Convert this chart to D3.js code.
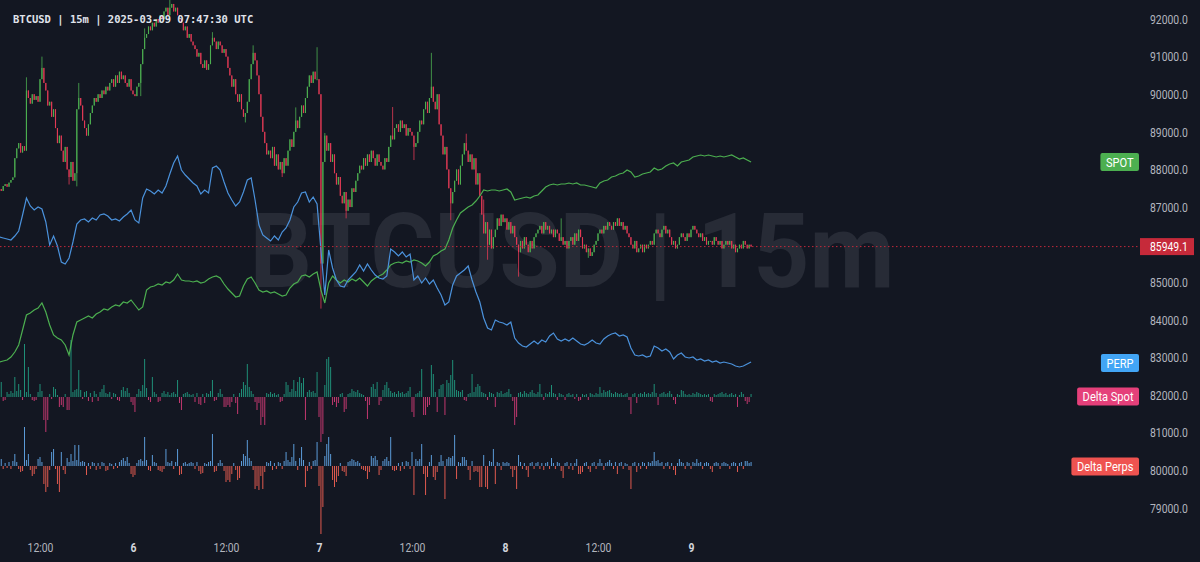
<!DOCTYPE html>
<html>
<head>
<meta charset="utf-8">
<script src="https://cdn.jsdelivr.net/npm/d3@7"></script>
<style>
  body { margin: 0; background: #131722; }
  svg { display: block; }
  .cond { font-family: "Roboto", "Noto Sans", sans-serif; }
</style>
</head>
<body>
<div id="chart"></div>
<script>
// ---- data ----
const title = "BTCUSD | 15m | 2025-03-09 07:47:30 UTC";
const watermark = "BTCUSD | 15m";
const lastPrice = 85949.1;
const firstOpen = 87520;

// 15m closes, 2025-03-05 06:45 -> 2025-03-09 07:45 UTC
const closes = [
  87480, 87430, 87560, 87610, 87540, 87650, 87720, 87790, 88300, 88560, 88700, 88450, 88620, 88500,
  90100, 89900, 89750, 90000, 89850, 89950, 89800, 90400, 90700, 90300, 90100, 89700,
  89800, 89400, 89600, 89100, 88700, 88900, 88500, 88200, 88600, 88000, 87800, 88200, 87700, 87900,
  89600, 89900, 89700, 89300, 89100, 88900, 89200, 89500,
  89700, 89900, 89800, 90000, 89900, 90100, 90000, 90200, 90100,
  90300, 90400, 90200, 90500, 90300, 90600, 90400, 90500, 90300, 90200, 90400,
  90100, 90000, 89950, 90200, 90300, 90800, 91200, 91500,
  91600, 91800, 91700, 91900, 91800, 92000, 91900, 92100, 92000, 92200, 92300, 92100, 92300, 92400, 92200, 92300, 92100,
  92000, 91900, 91700, 91800, 91500, 91600, 91400, 91300,
  91200, 91000, 91100, 90800, 90700, 90900, 90650, 90800,
  91300, 91500, 91400, 91200, 91400, 91300, 91100, 91200, 91000,
  90700, 90500, 90200, 90400, 90000, 89800, 90000, 89600, 89400, 89500,
  89800, 90400, 90800, 91100, 90900,
  90500, 90000, 89400, 89000, 88700, 88400, 88500,
  88300, 88600, 88100, 88400, 88000, 88200, 87900, 88300, 88100,
  88500, 88800, 88600, 89000, 89300, 89100, 89400, 89700, 89500,
  89900, 90200, 90500, 90300, 90600, 90400,
  90400, 90000, 85500, 88200, 88900,
  88500, 88700, 88200, 88400, 87900, 87600, 87800, 87300,
  87100, 87400, 86900, 87200, 87000, 87500, 87400,
  87700, 87900, 88100, 88000, 88300, 88100, 88400, 88200, 88500, 88300, 88100, 88400, 88200,
  88100, 88000, 88300, 88200, 88600, 88900, 88800, 89100,
  89200, 89000, 89300, 89100, 89200, 88900, 89100, 89000, 88900, 88600, 88700,
  89000, 89300, 89200, 89600, 89800, 89500, 89900, 90200, 89800,
  89600, 90000, 89200, 88900, 88400, 88600, 88000, 87500, 87100, 87400,
  87700, 88000, 87600, 88100, 88400, 88700, 88500, 88200, 88400,
  88000, 88300, 87600, 87900, 87300,
  86800, 86300, 86600, 86000, 86400, 85900, 86200,
  86400, 86700, 86500, 86800, 86600, 86700, 86400, 86600, 86300, 86500, 86200, 86000, 85800,
  86100, 85900, 86200, 86000, 85800, 86100, 85900, 86200, 86300,
  86400, 86500, 86300, 86600, 86400, 86500, 86300, 86400, 86200, 86400, 86300, 86100, 86200, 86000, 86100, 85900, 86100,
  86200, 86000, 86300, 86100, 86400, 86200, 85900, 86000, 85800, 85900, 85700, 85800, 86000, 86100, 86300,
  86400, 86300, 86500, 86400, 86600, 86500, 86400, 86600, 86500, 86700, 86500, 86600, 86400, 86500, 86300, 86200,
  86000, 85900, 86100, 85800, 85900, 86000, 85800, 86000, 85900, 86000, 86100, 86000,
  86300, 86400, 86300, 86200, 86400, 86500, 86300, 86400, 86200, 86000, 86100, 85900, 86000,
  86200, 86300, 86200, 86100, 86300, 86200, 86400, 86500, 86400, 86300, 86200, 86300, 86100, 86200, 86000, 86100,
  86100, 86000, 86200, 86100, 86000, 86100, 85900, 86000, 86100, 86000, 86100, 85900, 86000, 85800, 85900, 86000,
  85900, 86100, 86000, 85900, 86000, 85949.1
];

// notable wicks [candle index, price]
const wickHighs = [[14, 90450], [22, 91000], [41, 90300], [75, 91750], [88, 92600], [110, 91650], [131, 91300],
  [153, 89650], [164, 91250], [168, 88970], [203, 89660], [223, 91100], [241, 88950], [250, 87200], [290, 86700]];
const wickLows = [[36, 87600], [40, 87550], [73, 89950], [127, 89250], [146, 87800], [166, 84300], [179, 86700],
  [214, 88250], [233, 86650], [252, 85600], [268, 85150], [304, 85650]];

// cumulative delta lines, one point per 30m
const spotCvd = [
  1.8, 1.9, 2.0, 2.3, 2.8, 3.5, 5.0, 6.5, 6.7, 7.0, 7.2, 7.7, 6.8, 5.5, 4.5, 4.2, 4.0, 3.5, 2.5, 4.5,
  5.8, 6.0, 6.2, 6.4, 6.2, 6.6, 6.8, 7.1, 7.0, 7.3, 7.5, 7.4, 7.8, 7.7, 8.0, 7.5, 7.0, 7.3, 9.0, 9.3,
  9.4, 9.6, 9.5, 9.8, 9.7, 10.0, 10.6, 10.0, 9.9, 9.9, 9.8, 9.9, 9.7, 9.8, 10.1, 10.3, 10.4, 10.2, 9.6, 9.1,
  8.7, 8.3, 8.4, 9.4, 10.1, 10.3, 9.7, 9.0, 8.8, 8.9, 8.7, 8.8, 8.6, 8.4, 8.5, 9.2, 9.6, 9.8, 10.4, 10.5,
  10.3, 10.6, 10.8, 9.0, 7.7, 9.7, 10.4, 10.0, 9.7, 10.0, 9.8, 10.1, 9.9, 10.2, 9.8, 9.4, 9.9, 10.2, 10.4, 10.6,
  11.0, 11.5, 11.7, 11.8, 11.7, 11.9, 11.8, 12.0, 11.9, 11.7, 11.4, 11.8, 12.4, 12.6, 12.9, 13.1, 14.0, 15.2, 16.0, 16.7,
  17.0, 17.3, 17.5, 17.9, 18.4, 19.0, 18.9, 19.0, 19.0, 18.9, 19.0, 19.1, 18.8, 18.0, 18.1, 18.2, 18.3, 18.2, 18.4, 18.5,
  18.9, 19.3, 19.5, 19.6, 19.5, 19.6, 19.6, 19.7, 19.6, 19.7, 19.5, 19.5, 19.4, 19.3, 19.2, 19.7, 19.9, 20.0, 20.3, 20.4,
  20.6, 20.7, 21.0, 20.8, 20.3, 20.4, 20.6, 20.7, 20.8, 21.2, 21.0, 21.1, 21.4, 21.6, 21.7, 21.4, 21.8, 21.9, 22.0, 22.3,
  22.4, 22.5, 22.4, 22.5, 22.4, 22.3, 22.4, 22.3, 22.4, 22.5, 22.3, 22.1, 22.2, 22.0, 21.8
];
const perpCvd = [
  14.3, 14.2, 14.1, 14.0, 14.4, 14.9, 16.5, 18.2, 17.4, 17.0, 17.3, 17.1, 15.8, 13.5, 14.4, 13.4, 11.8, 11.6, 12.2, 13.8,
  15.6, 16.0, 16.1, 15.8, 16.2, 16.0, 16.5, 16.6, 16.4, 16.0, 16.1, 15.9, 16.3, 16.6, 17.0, 16.0, 15.7, 18.2, 19.1, 18.9,
  18.6, 19.0, 18.7, 19.4, 20.6, 21.7, 22.4, 21.0, 20.5, 20.1, 19.7, 19.4, 18.6, 19.0, 18.7, 21.2, 21.4, 21.0, 19.8, 18.7,
  18.0, 17.4, 17.8, 18.8, 20.0, 20.2, 18.0, 15.5, 14.5, 14.2, 13.9, 14.4, 14.0, 14.8, 15.2, 16.0, 17.3, 17.8, 18.7, 18.8,
  17.8, 18.3, 17.6, 13.0, 8.5, 13.0, 11.2, 10.0, 9.4, 9.3, 10.0, 10.4, 10.8, 11.5, 10.9, 11.6, 11.0, 10.5, 10.2, 10.1,
  10.4, 13.1, 12.8, 12.4, 12.8, 12.3, 12.6, 10.0, 10.4, 9.7, 10.2, 9.6, 10.0, 9.2, 8.5, 7.5, 7.8, 9.5, 10.4, 10.7,
  11.0, 11.4, 10.0, 8.8, 7.8, 6.2, 5.2, 5.0, 6.0, 5.8, 5.7, 5.5, 5.8, 4.2, 3.7, 3.4, 3.3, 3.6, 3.9, 3.6,
  4.0, 3.8, 4.4, 4.7, 4.1, 3.9, 4.1, 3.9, 4.2, 3.9, 3.6, 3.5, 3.7, 4.0, 3.7, 3.6, 4.1, 4.4, 4.6, 4.7,
  4.4, 4.5, 4.3, 3.2, 2.5, 2.4, 2.5, 2.3, 2.4, 3.4, 3.2, 2.9, 3.1, 2.8, 2.1, 2.5, 2.7, 2.3, 2.2, 2.3,
  2.0, 2.1, 1.9, 2.0, 1.8, 1.9, 1.7, 1.8, 1.7, 1.6, 1.4, 1.3, 1.4, 1.6, 1.8
];

// per-candle volume delta
const deltaSpot = [
  4, 15, -4, -3, 5, 3, 6, 4, 20, 6, 13, 7, -3, 53, 5, 30, 3, -3, -4, -3,
  5, 13, 6, -23, -35, -23, 3, -2, 10, 8, 2, -10, -8, -10, 3, -13, -13, 57, 5, 7,
  8, 27, 7, -2, 5, 6, -4, 4, -5, 6, 3, -4, 5, 8, 12, 4, 3, 5, -2, 4,
  3, -3, -4, 7, 10, 6, 9, 4, -5, -8, -15, 3, 8, 6, 12, 38, 9, -3, -5, 20,
  5, 3, -5, -4, 4, 6, 3, 5, 2, 4, 5, 3, 17, -6, -13, 3, 4, 5, 3, 2,
  3, -5, 4, -7, -8, 3, -6, 4, 3, 6, 17, -4, -3, 4, 8, 3, -10, -10, -8, -10,
  -5, 3, -6, -17, 4, 8, 15, 12, 33, 10, 6, 3, -5, -13, -6, -28, -20, -28, 4, 3,
  5, 3, 4, 2, 3, -5, -4, 3, 15, 12, 5, 8, 17, 6, 15, 20, 14, 19, -23, 5,
  7, 5, 6, 4, 25, -20, -45, -37, 12, 38, 40, 30, -8, -5, -10, -6, 3, 4, -15, -12,
  3, 4, 8, 6, 5, 7, 4, 3, 2, -4, -22, -8, 10, 13, 8, 15, -8, -4, 7, 12,
  15, 9, 6, 4, 5, 3, 6, 4, 5, 3, 4, 6, 10, -15, -20, 3, 4, 6, 28, -18,
  -18, -10, -8, 32, 23, 5, -15, 8, 12, 13, -18, 17, 14, 22, 37, 17, 7, 6, 5, 7,
  -3, -4, 3, 4, 23, 5, 10, 13, 11, 5, 4, 3, -3, 5, 4, 3, -10, 5, 4, 6,
  3, 4, 5, 8, 3, -4, -28, -20, 4, 5, 3, 6, 4, 3, 5, 7, 4, 3, 5, 13,
  3, -3, 4, 3, 5, 12, 4, 3, -3, 4, 3, 2, -3, 3, 4, 2, 3, -2, 3, -4,
  -3, 3, 2, 3, -3, 4, 3, 2, 4, 3, 10, 4, 7, 5, 6, 7, 4, 3, 5, 4,
  3, 4, 2, 3, 4, -3, -17, 3, 4, -6, 3, 4, 3, 5, 3, 4, 3, 5, 13, 4,
  -8, 3, 4, 5, 3, 4, 6, 3, -3, -7, 3, 2, 7, 6, 3, 2, 3, 2, 4, 3,
  5, 4, 3, 2, 3, 2, 3, -4, -5, 3, 2, 3, 4, 5, 3, 4, 2, 3, 4, 2,
  3, -10, 2, 5, 3, -4, -7, -5, 3
];
const deltaPerp = [
  5, 7, -3, 3, -2, 4, -3, 5, 12, 4, -3, -6, -5, 39, 6, 12, -4, -10, -8, -3,
  7, 9, 4, -18, -26, -21, -4, 14, 17, -3, -18, -26, 14, -4, -8, 8, 4, 12, 5, 21,
  6, 21, 4, 5, 4, -9, 3, -3, 4, 3, -4, 3, -3, 4, 3, -5, -4, 3, 2, -3,
  3, -2, 4, 6, 8, 5, 9, 3, -8, -11, -9, 3, 6, 7, 5, 29, 6, -4, -5, 11,
  4, 3, -4, -5, -6, -3, 17, 4, 3, 5, -3, 4, 17, -9, -8, 3, 4, 2, 3, 4,
  3, -3, 4, -5, -8, -7, 3, 2, 4, 5, 32, -6, -5, 3, 6, 3, -5, -16, -14, -16,
  -8, 3, -4, -14, -12, 5, 12, 10, 26, 8, 5, -4, -23, -20, -24, -10, -23, -6, 4, 3,
  5, -4, 3, -3, 4, 3, -3, 5, 14, 6, 4, 9, 22, 5, -4, 8, 19, 6, -21, -5,
  4, -3, 5, 6, 24, -20, -68, -41, 10, 22, 29, 12, -14, -21, -16, -10, 3, -5, -6, -10,
  4, 5, 7, 6, 4, 5, 3, -3, -4, -5, -13, -6, 10, 8, 10, 6, -9, -4, 5, 7,
  9, 5, 29, -4, -5, -4, 3, -5, 4, -3, 5, 4, -3, 14, -29, 7, 5, 7, 22, -8,
  -29, -11, 4, 11, -11, -14, -6, 4, 11, 5, -33, 7, 9, 8, 10, 31, -13, 4, 3, 9,
  9, 6, -4, -14, 5, -6, -5, -6, -21, -21, 11, -21, -23, 5, 4, 17, -18, 4, 3, -4,
  4, 3, 4, 3, -3, -11, -4, -23, 11, 4, -3, 3, -4, -11, 3, 4, -3, 3, 4, -3,
  3, -4, 3, 4, -3, 8, 3, -3, 4, 3, -5, -12, 3, 4, -3, 3, -4, 3, 7, -8,
  -8, -6, 3, 4, -3, -6, 3, 4, -3, 3, 7, 3, -4, 3, 4, 6, 3, -3, 4, -8,
  3, 4, -3, 3, 2, -4, -23, 3, 4, -6, 3, -3, 4, 3, -3, 4, 3, 5, 14, 5,
  6, 3, 4, -3, 3, 4, -3, 3, -4, -9, 3, 7, 4, 3, -3, 4, 3, -3, 4, 3,
  7, 3, 4, -3, 3, 4, 3, -3, -6, 3, 4, 3, -3, 3, 4, 3, 2, -3, 3, 4,
  3, -6, 3, 4, -3, 5, 5, 3, 4
];

// 86000 sits under the last-price label, so it is not shown
const priceTicks = [79000, 80000, 81000, 82000, 83000, 84000, 85000, 87000, 88000, 89000, 90000, 91000, 92000];
const timeTicks = [
  Date.UTC(2025, 2, 5, 12), Date.UTC(2025, 2, 6), Date.UTC(2025, 2, 6, 12), Date.UTC(2025, 2, 7),
  Date.UTC(2025, 2, 7, 12), Date.UTC(2025, 2, 8), Date.UTC(2025, 2, 8, 12), Date.UTC(2025, 2, 9)
].map(d => new Date(d));

// ---- chart ----
const width = 1200, height = 562;
const M15 = 15 * 60 * 1000;
const lastBar = Date.UTC(2025, 2, 9, 7, 45);
const squeeze = "scale(0.8,1)"; // narrow the UI font to look like the condensed original

const svg = d3.select("#chart").append("svg")
  .attr("width", width)
  .attr("height", height);
svg.append("rect").attr("width", width).attr("height", height).attr("fill", "#131722");

const x = d3.scaleUtc()
  .domain([new Date(Date.UTC(2025, 2, 6)), new Date(Date.UTC(2025, 2, 9))])
  .range([133, 691]);
const y = d3.scaleLinear().domain([79000, 92000]).range([508, 19]);
const ySpot = d3.scaleLinear().domain([0, 20]).range([380, 180]);
const yPerp = d3.scaleLinear().domain([0, 20]).range([380, 180]);
const yDSpot = d3.scaleLinear().domain([-60, 60]).range([457, 337]);
const yDPerp = d3.scaleLinear().domain([-60, 60]).range([526, 406]);

const barTime = (i, n, step) => new Date(lastBar - (n - 1 - i) * step);

const candles = closes.map((c, i) => {
  const o = i === 0 ? firstOpen : closes[i - 1];
  return { t: barTime(i, closes.length, M15), o: o, c: c, h: Math.max(o, c), l: Math.min(o, c) };
});
wickHighs.forEach(([i, v]) => { candles[i].h = Math.max(candles[i].h, v); });
wickLows.forEach(([i, v]) => { candles[i].l = Math.min(candles[i].l, v); });

// watermark
svg.append("text")
  .attr("x", 572).attr("y", 287)
  .attr("text-anchor", "middle")
  .attr("font-family", "Roboto, sans-serif")
  .attr("font-weight", 700)
  .attr("font-size", 104)
  .attr("fill", "#272b36")
  .attr("textLength", 645)
  .attr("lengthAdjust", "spacingAndGlyphs")
  .text(watermark);

// delta histograms
function deltaBars(data, yScale, upColor, downColor) {
  svg.append("g").selectAll("rect")
    .data(data)
    .join("rect")
    .attr("x", (d, i) => x(barTime(i, data.length, M15)) - 0.5)
    .attr("width", 1)
    .attr("y", d => Math.min(yScale(d), yScale(0)))
    .attr("height", d => Math.abs(yScale(d) - yScale(0)))
    .attr("fill", d => d >= 0 ? upColor : downColor);
}
deltaBars(deltaSpot, yDSpot, "#1f8f78", "#c2386f");
deltaBars(deltaPerp, yDPerp, "#5b9bd8", "#e05a4f");

// candles
const upCol = "#4caf50", downCol = "#e23a55";
const cg = svg.append("g");
cg.selectAll("line")
  .data(candles)
  .join("line")
  .attr("x1", d => x(d.t)).attr("x2", d => x(d.t))
  .attr("y1", d => y(d.h)).attr("y2", d => y(d.l))
  .attr("stroke", d => d.c >= d.o ? upCol : downCol)
  .attr("stroke-width", 0.8);
cg.selectAll("rect")
  .data(candles)
  .join("rect")
  .attr("x", d => x(d.t) - 0.55)
  .attr("width", 1.1)
  .attr("y", d => y(Math.max(d.o, d.c)))
  .attr("height", d => Math.max(1, Math.abs(y(d.o) - y(d.c))))
  .attr("fill", d => d.c >= d.o ? upCol : downCol);

// cumulative delta lines
const HALF = 30 * 60 * 1000;
function cvdLine(data, yScale, color) {
  svg.append("path")
    .datum(data)
    .attr("fill", "none")
    .attr("stroke", color)
    .attr("stroke-width", 1.2)
    .attr("d", d3.line()
      .x((d, i) => x(barTime(i, data.length, HALF)))
      .y(d => yScale(d)));
}
cvdLine(spotCvd, ySpot, "#4caf50");
cvdLine(perpCvd, yPerp, "#4b92dc");

// last price line
svg.append("line")
  .attr("x1", 0).attr("x2", 1140)
  .attr("y1", y(lastPrice)).attr("y2", y(lastPrice))
  .attr("stroke", "#c2283b")
  .attr("stroke-dasharray", "1.5,2.5");

// price axis
const yAxis = svg.append("g")
  .attr("class", "cond")
  .attr("transform", "translate(1150,0)")
  .call(d3.axisRight(y).tickValues(priceTicks).tickFormat(d3.format(".1f")).tickSize(0).tickPadding(0));
yAxis.select(".domain").remove();
yAxis.selectAll("text")
  .attr("fill", "#b2b5be")
  .attr("font-size", 13)
  .attr("transform", squeeze);

// time axis
const xAxis = svg.append("g")
  .attr("class", "cond")
  .attr("transform", "translate(0,539)")
  .call(d3.axisBottom(x).tickValues(timeTicks)
    .tickFormat(d => d.getUTCHours() === 0 ? d3.utcFormat("%-d")(d) : d3.utcFormat("%H:%M")(d))
    .tickSize(0).tickPadding(4));
xAxis.select(".domain").remove();
xAxis.selectAll("text")
  .attr("font-size", 13)
  .attr("transform", squeeze)
  .attr("fill", d => d.getUTCHours() === 0 ? "#d1d4dc" : "#b2b5be")
  .attr("font-weight", d => d.getUTCHours() === 0 ? 700 : 400);

// label tags on the right
function tag(label, yc, color, right) {
  const g = svg.append("g").attr("class", "cond");
  const t = g.append("text")
    .attr("y", yc)
    .attr("dy", "0.36em")
    .attr("text-anchor", "end")
    .attr("font-size", 13.5)
    .attr("fill", "#ffffff")
    .attr("transform", `translate(${right - 5.5},0) scale(0.82,1)`)
    .text(label);
  const w = t.node().getComputedTextLength() * 0.82 + 11;
  g.insert("rect", "text")
    .attr("x", right - w).attr("y", yc - 9)
    .attr("width", w).attr("height", 18)
    .attr("rx", 2)
    .attr("fill", color);
}
tag("SPOT", 162, "#4caf50", 1139);
tag("PERP", 363, "#42a5f5", 1139);
tag("Delta Spot", 396.5, "#e5407a", 1139);
tag("Delta Perps", 466.5, "#ef5350", 1139);

// last price label
const py = y(lastPrice);
svg.append("rect")
  .attr("x", 1140).attr("y", py - 8.5)
  .attr("width", 54).attr("height", 17)
  .attr("fill", "#c62a3a");
svg.append("text")
  .attr("class", "cond")
  .attr("y", py)
  .attr("dy", "0.36em")
  .attr("font-size", 13)
  .attr("fill", "#ffffff")
  .attr("transform", `translate(1150,0) ${squeeze}`)
  .text(d3.format(".1f")(lastPrice));

// title
svg.append("text")
  .attr("x", 13).attr("y", 23)
  .attr("font-family", "DejaVu Sans Mono, monospace")
  .attr("font-weight", 700)
  .attr("font-size", 10.5)
  .attr("fill", "#e0e3eb")
  .text(title);
</script>
</body>
</html>
